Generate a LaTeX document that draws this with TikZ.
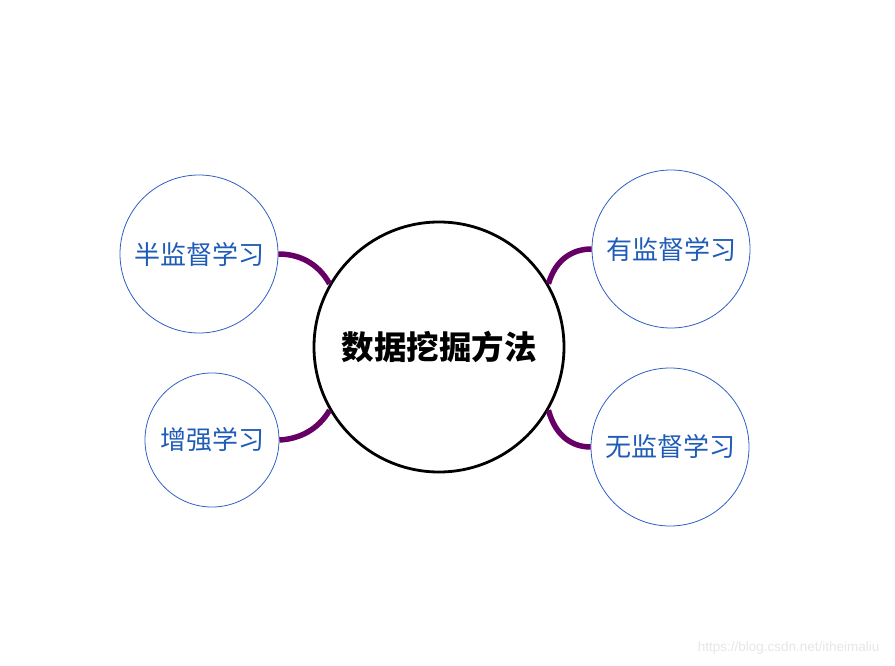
\documentclass[tikz,border=0pt]{standalone}
\usepackage{fontspec}
\newfontfamily\cjk{Noto Sans CJK SC}
\newfontfamily\wm{Liberation Sans}
\definecolor{linkpurple}{HTML}{660066}
\definecolor{leafblue}{HTML}{2E5FC4}
\definecolor{textblue}{HTML}{1F5CB8}
\definecolor{wmgray}{HTML}{E6E6E6}
\begin{document}
\begin{tikzpicture}[x=1pt,y=-1pt,
  hub/.style={circle,draw=black,line width=2.8pt,minimum size=250pt,inner sep=0pt,font=\cjk\bfseries\fontsize{32.5}{36}\selectfont},
  leaf/.style={circle,draw=leafblue,line width=0.8pt,inner sep=0pt,text=textblue,font=\cjk\fontsize{26}{30}\selectfont},
  link/.style={draw=linkpurple,line width=5.5pt}]
\useasboundingbox (0,0) rectangle (895,666);
\node[hub] (hub) at (439,347) {数据挖掘方法};
\node[leaf,minimum size=158pt] (semi) at (199,254) {半监督学习};
\node[leaf,minimum size=134pt] (rein) at (212,440) {增强学习};
\node[leaf,minimum size=158pt] (sup) at (671,249) {有监督学习};
\node[leaf,minimum size=158pt] (unsup) at (670,447) {无监督学习};
\draw[link] (semi.east) .. controls (299,254) and (318,263) .. (hub.150);
\draw[link] (rein.east) .. controls (299,439) and (318,430) .. (hub.-150);
\draw[link] (sup.west) .. controls (574,249) and (556,258) .. (hub.30);
\draw[link] (unsup.west) .. controls (574,447) and (556,438) .. (hub.-30);
\node[text=wmgray,font=\wm\fontsize{13.5}{16}\selectfont,anchor=east] (mark) at (883,648) {https://blog.csdn.net/itheimaliu};
\end{tikzpicture}
\end{document}
